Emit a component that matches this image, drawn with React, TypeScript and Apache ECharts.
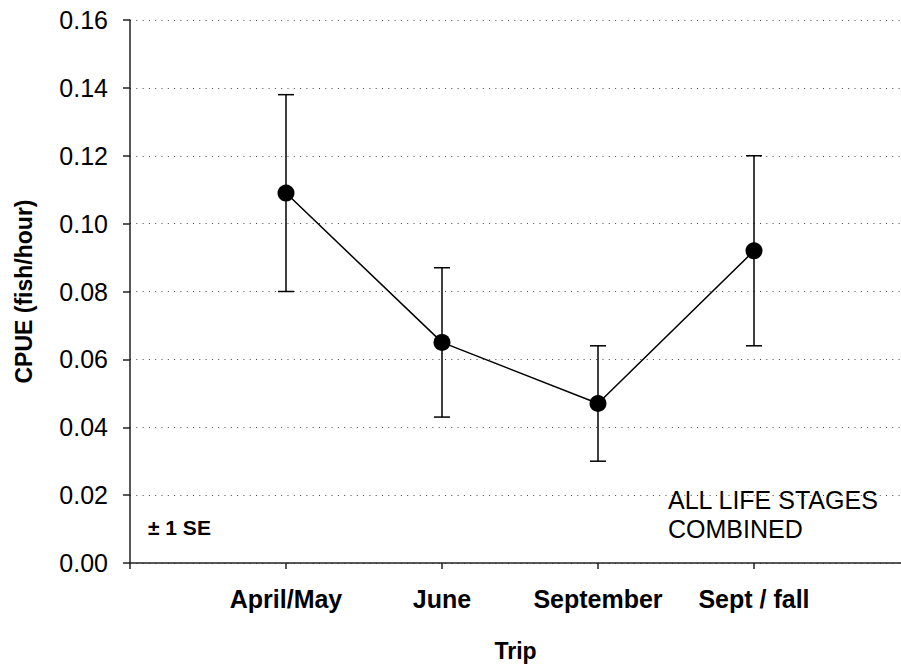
import React, { useEffect, useRef } from "react";
import * as echarts from "echarts";

const categories = ["", "April/May", "June", "September", "Sept / fall"];
const tripIndex = [1, 2, 3, 4];
const meanCPUE = [0.109, 0.065, 0.047, 0.092];
const lowerSE = [0.080, 0.043, 0.030, 0.064];
const upperSE = [0.138, 0.087, 0.064, 0.120];
const yTicks = [0, 0.02, 0.04, 0.06, 0.08, 0.1, 0.12, 0.14, 0.16];

export default function App() {
  const ref = useRef<HTMLDivElement>(null);
  useEffect(() => {
    if (!ref.current) return;
    const chart = echarts.init(ref.current, null, { renderer: "svg" });
    const font = "Liberation Sans, Arial, sans-serif";
    const errData = tripIndex.map((x, i) => [x, lowerSE[i], upperSE[i]]);
    // plot area runs past the right edge of the canvas in the original; 156 px per trip
    const xMax = 771 / 156;
    chart.setOption({
      animation: false,
      backgroundColor: "#ffffff",
      grid: { left: 130, top: 20, right: 0, bottom: 102, containLabel: false },
      xAxis: {
        type: "value",
        min: 0,
        max: xMax,
        interval: 1,
        name: "Trip",
        nameLocation: "middle",
        nameGap: 76,
        nameTextStyle: { fontFamily: font, fontSize: 23, fontWeight: "bold", color: "#000", padding: [0, 0, 0, 9 * 2 * 0] },
        axisLine: { lineStyle: { color: "#222", width: 1.5 } },
        axisTick: { show: true, length: 6, lineStyle: { color: "#222", width: 1.5 } },
        axisLabel: {
          fontFamily: font,
          fontSize: 25,
          fontWeight: "bold",
          color: "#000",
          margin: 23,
          showMaxLabel: false,
          formatter: (v: number) => {
            const i = Math.round(v);
            return Math.abs(v - i) < 1e-6 && categories[i] ? categories[i] : "";
          },
        },
        splitLine: { show: false },
      },
      yAxis: {
        type: "value",
        min: 0,
        max: 0.16,
        interval: 0.02,
        name: "CPUE (fish/hour)",
        nameLocation: "middle",
        nameGap: 95,
        nameTextStyle: { fontFamily: font, fontSize: 23, fontWeight: "bold", color: "#000" },
        axisLine: { show: true, lineStyle: { color: "#222", width: 1.5 } },
        axisTick: { show: true, length: 7, lineStyle: { color: "#222", width: 1.5 } },
        axisLabel: {
          fontFamily: font,
          fontSize: 25,
          color: "#000",
          margin: 22,
          formatter: (v: number) => {
            const t = yTicks.find((k) => Math.abs(k - v) < 1e-9);
            return (t ?? v).toFixed(2);
          },
        },
        splitLine: { show: true, lineStyle: { color: "#444", width: 1, type: [1, 5.3] } },
      },
      series: [
        {
          type: "custom",
          data: errData,
          z: 2,
          renderItem: (params: any, api: any) => {
            const x = api.value(0);
            const lo = api.coord([x, api.value(1)]);
            const hi = api.coord([x, api.value(2)]);
            const hw = 8;
            const st = { stroke: "#000", lineWidth: 1.5 };
            return {
              type: "group",
              children: [
                { type: "line", shape: { x1: lo[0], y1: lo[1], x2: hi[0], y2: hi[1] }, style: st },
                { type: "line", shape: { x1: lo[0] - hw, y1: lo[1], x2: lo[0] + hw, y2: lo[1] }, style: st },
                { type: "line", shape: { x1: hi[0] - hw, y1: hi[1], x2: hi[0] + hw, y2: hi[1] }, style: st },
              ],
            };
          },
        },
        {
          type: "line",
          data: tripIndex.map((x, i) => [x, meanCPUE[i]]),
          symbol: "circle",
          symbolSize: 17,
          z: 3,
          lineStyle: { color: "#000", width: 1.5 },
          itemStyle: { color: "#000" },
        },
      ],
      graphic: [
        {
          type: "text",
          left: 148,
          top: 517,
          style: { text: "± 1 SE", fontFamily: font, fontSize: 21, fontWeight: "bold", fill: "#000" },
        },
        {
          type: "text",
          left: 668,
          top: 485,
          style: {
            text: "ALL LIFE STAGES\nCOMBINED",
            fontFamily: font,
            fontSize: 25,
            lineHeight: 29,
            fill: "#000",
          },
        },
      ],
    });
    return () => chart.dispose();
  }, []);
  return <div ref={ref} style={{ width: 901, height: 667, position: "absolute", left: 0, top: 0 }} />;
}
